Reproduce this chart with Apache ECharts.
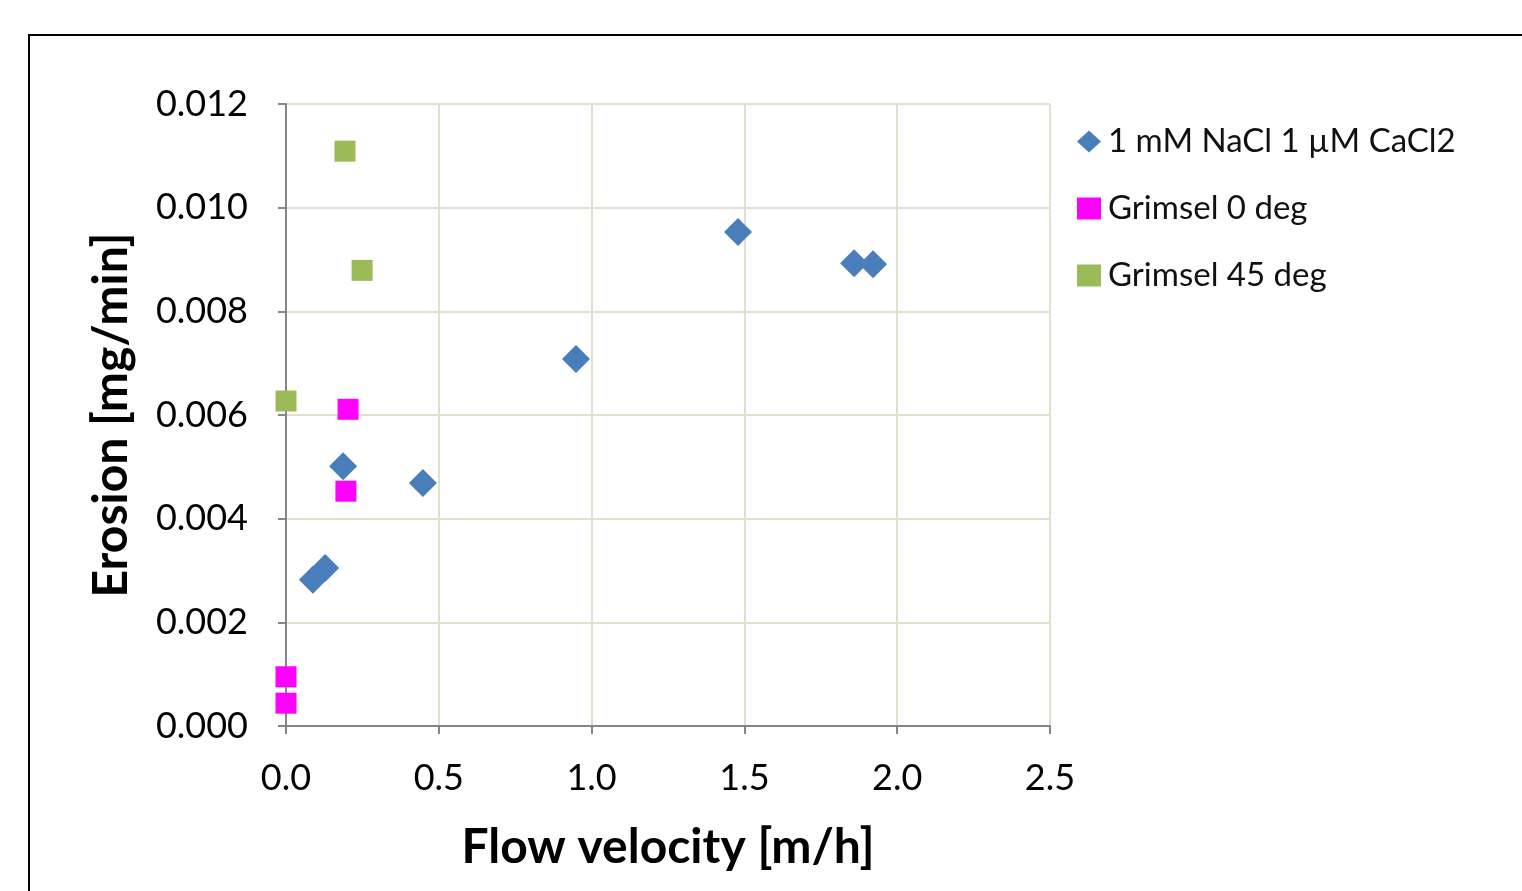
<!DOCTYPE html>
<html>
<head>
<meta charset="utf-8">
<script src="https://cdn.jsdelivr.net/npm/echarts@6/dist/echarts.min.js"></script>
<style>
html,body{margin:0;padding:0;background:#fff;}
#main{width:1522px;height:891px;}
</style>
</head>
<body>
<div id="main"></div>
<script>
// 数据
var seriesNames = ['1 mM NaCl 1 µM CaCl2', 'Grimsel 0 deg', 'Grimsel 45 deg'];
var nacl = [[0.088, 0.00282], [0.128, 0.00305], [0.187, 0.00501], [0.448, 0.00469],
    [0.949, 0.00708], [1.479, 0.00953], [1.859, 0.00893], [1.921, 0.00891]];
var grimsel0 = [[0.0, 0.00095], [0.0, 0.00044], [0.203, 0.00611], [0.196, 0.00453]];
var grimsel45 = [[0.193, 0.01109], [0.249, 0.00879], [0.0, 0.00627]];
var xTicks = [0, 2.5, 0.5];
var yTicks = [0, 0.012, 0.002];

var font = 'Lato, "Open Sans", sans-serif';
var myChart = echarts.init(document.getElementById('main'));

var option = {
    animation: false,
    backgroundColor: '#fff',
    textStyle: {fontFamily: font},
    graphic: [{
        type: 'rect',
        shape: {x: 29, y: 35, width: 1600, height: 1000},
        style: {fill: 'none', stroke: '#000', lineWidth: 2},
        silent: true
    }],
    grid: {left: 286, right: 472, top: 104, bottom: 165},
    legend: {
        orient: 'vertical',
        left: 1072,
        top: 120,
        itemGap: 34,
        itemWidth: 24,
        itemHeight: 22,
        textStyle: {fontSize: 33, color: '#111', fontFamily: font, padding: [0, 0, 0, 2]},
        data: [
            {name: seriesNames[0], icon: 'diamond'},
            {name: seriesNames[1], icon: 'rect', itemStyle: {}},
            {name: seriesNames[2], icon: 'rect'}
        ]
    },
    xAxis: {
        type: 'value',
        min: xTicks[0],
        max: xTicks[1],
        interval: xTicks[2],
        name: 'Flow velocity [m/h]',
        nameLocation: 'middle',
        nameGap: 98,
        nameTextStyle: {fontSize: 48, fontWeight: 'bold', color: '#000', fontFamily: font},
        axisLine: {onZero: false, lineStyle: {color: '#868686', width: 2}},
        axisTick: {show: true, length: 8, lineStyle: {color: '#868686', width: 2}},
        axisLabel: {fontSize: 36, color: '#000', margin: 34, formatter: function (v) { return v.toFixed(1); }},
        splitLine: {lineStyle: {color: '#e3dfcd', width: 2}}
    },
    yAxis: {
        type: 'value',
        min: yTicks[0],
        max: yTicks[1],
        interval: yTicks[2],
        name: 'Erosion [mg/min]',
        nameLocation: 'middle',
        nameGap: 150,
        nameTextStyle: {fontSize: 48, fontWeight: 'bold', color: '#000', fontFamily: font},
        axisLine: {show: true, onZero: false, lineStyle: {color: '#868686', width: 2}},
        axisTick: {show: true, length: 8, lineStyle: {color: '#868686', width: 2}},
        axisLabel: {fontSize: 36, color: '#000', margin: 38, formatter: function (v) { return v.toFixed(3); }},
        splitLine: {lineStyle: {color: '#e3dfcd', width: 2}}
    },
    series: [
        {
            name: seriesNames[0],
            type: 'scatter',
            symbol: 'diamond',
            symbolSize: 28,
            itemStyle: {color: '#4a7ebb', opacity: 1},
            data: nacl
        },
        {
            name: seriesNames[1],
            type: 'scatter',
            symbol: 'rect',
            symbolSize: 21,
            itemStyle: {color: '#ff00ff', opacity: 1},
            data: grimsel0
        },
        {
            name: seriesNames[2],
            type: 'scatter',
            symbol: 'rect',
            symbolSize: 21,
            itemStyle: {color: '#9bbb59', opacity: 1},
            data: grimsel45
        }
    ]
};
myChart.setOption(option, true);
</script>
</body>
</html>
